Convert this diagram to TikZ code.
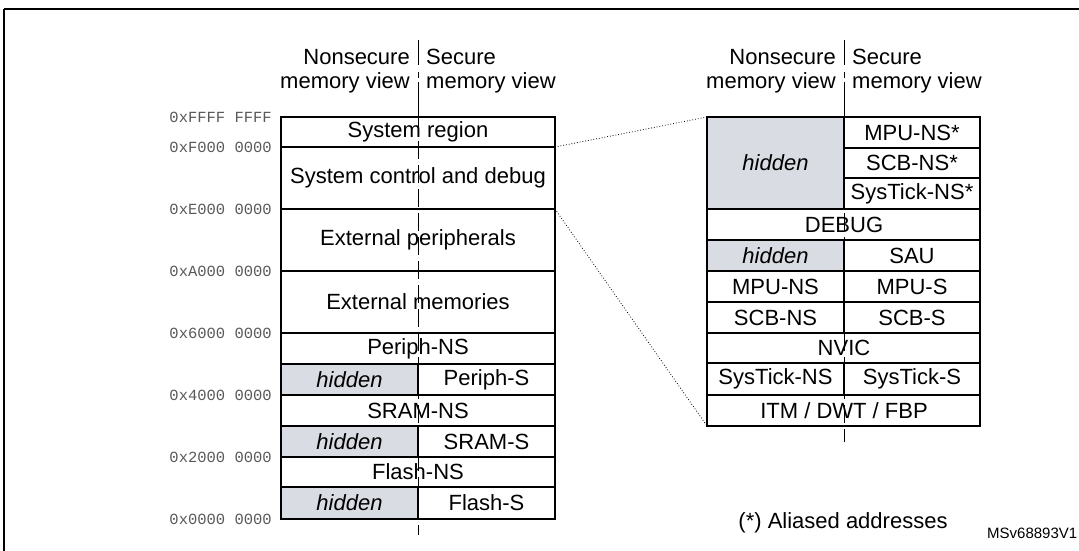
\documentclass[tikz,border=0pt]{standalone}
\usepackage{fontspec}
\setmainfont{Liberation Sans}
\setmonofont{Liberation Mono}
\begin{document}
\begin{tikzpicture}[x=1pt,y=-1pt,
  txt/.style={font=\fontsize{22}{24}\selectfont,inner sep=0pt},
  addr/.style={font=\ttfamily\fontsize{15.5}{17}\selectfont,text=black!65,anchor=east,inner sep=0pt},
  cell/.style={draw=black,line width=1.3pt},
  dl/.style={line width=1pt,dash pattern=on 18pt off 6pt},
  dot/.style={line width=0.8pt,dotted}]
\definecolor{hidfill}{HTML}{D9DCE3}
\useasboundingbox (0,0) rectangle (1079,551);
\draw[line width=1.5pt] (4,9) -- (4,560) (4,9) -- (1090,9);
% left header
\draw[line width=1pt] (418,40) -- (418,65) (418,72) -- (418,78) (418,82) -- (418,117);
\node[txt,anchor=east] (ln1) at (410,57) {Nonsecure};
\node[txt,anchor=east] (ln2) at (410,83) {memory view};
\node[txt,anchor=west] (ls1) at (426,57) {Secure};
\node[txt,anchor=west] (ls2) at (426,83) {memory view};
% left block
\fill[hidfill] (281,364) rectangle (418,395) (281,426) rectangle (418,457) (281,487) rectangle (418,519);
\draw[dl] (418,117) -- (418,535);
\draw[cell] (281,117) rectangle (555,519);
\foreach \y in {147,209,271,333,364,395,426,457,487} \draw[cell] (281,\y) -- (555,\y);
\foreach \a/\b in {364/395,426/457,487/519} \draw[cell] (418,\a) -- (418,\b);
\node[txt] (sr) at (418,132) {System region};
\node[txt] (sc) at (418,178) {System control and debug};
\node[txt] (ep) at (418,240) {External peripherals};
\node[txt] (em) at (418,302) {External memories};
\node[txt] (pns) at (418,348.5) {Periph-NS};
\node[txt] (h1) at (349.5,379.5) {\itshape hidden};
\node[txt] (ps) at (486.5,379.5) {Periph-S};
\node[txt] (sns) at (418,410.5) {SRAM-NS};
\node[txt] (h2) at (349.5,441.5) {\itshape hidden};
\node[txt] (ss) at (486.5,441.5) {SRAM-S};
\node[txt] (fns) at (418,472) {Flash-NS};
\node[txt] (h3) at (349.5,503) {\itshape hidden};
\node[txt] (fs) at (486.5,503) {Flash-S};
\node[addr] (a1) at (272,117) {0xFFFF FFFF};
\node[addr] (a2) at (272,147) {0xF000 0000};
\node[addr] (a3) at (272,209) {0xE000 0000};
\node[addr] (a4) at (272,271) {0xA000 0000};
\node[addr] (a5) at (272,333) {0x6000 0000};
\node[addr] (a6) at (272,395) {0x4000 0000};
\node[addr] (a7) at (272,457) {0x2000 0000};
\node[addr] (a8) at (272,519) {0x0000 0000};
% right header
\draw[line width=1pt] (844,40) -- (844,65) (844,72) -- (844,78) (844,82) -- (844,117);
\node[txt,anchor=east] (rn1) at (836,57) {Nonsecure};
\node[txt,anchor=east] (rn2) at (836,83) {memory view};
\node[txt,anchor=west] (rs1) at (852,57) {Secure};
\node[txt,anchor=west] (rs2) at (852,83) {memory view};
% right block
\fill[hidfill] (707,117) rectangle (844,209) (707,240) rectangle (844,271);
\draw[dl] (844,117) -- (844,442);
\draw[cell] (707,117) rectangle (980,426);
\foreach \y in {209,240,271,302,333,363,395} \draw[cell] (707,\y) -- (980,\y);
\draw[cell] (844,148) -- (980,148) (844,178) -- (980,178);
\foreach \a/\b in {117/209,240/271,271/302,302/333,363/395} \draw[cell] (844,\a) -- (844,\b);
\node[txt] (hr1) at (775.5,163) {\itshape hidden};
\node[txt] (m1) at (912,132.5) {MPU-NS*};
\node[txt] (c1) at (912,163) {SCB-NS*};
\node[txt] (t1) at (912,193.5) {SysTick-NS*};
\node[txt] (dbg) at (844,224.5) {DEBUG};
\node[txt] (hr2) at (775.5,255.5) {\itshape hidden};
\node[txt] (sau) at (912,255.5) {SAU};
\node[txt] (mn) at (775.5,286.5) {MPU-NS};
\node[txt] (ms) at (912,286.5) {MPU-S};
\node[txt] (cn) at (775.5,317.5) {SCB-NS};
\node[txt] (cs) at (912,317.5) {SCB-S};
\node[txt] (nv) at (844,348) {NVIC};
\node[txt] (tn) at (775.5,379) {SysTick-NS};
\node[txt] (ts) at (912,379) {SysTick-S};
\node[txt] (itm) at (844,410.5) {ITM / DWT / FBP};
% zoom lines
\coordinate (z1) at (555,147); \coordinate (z2) at (707,117);
\coordinate (z3) at (555,209); \coordinate (z4) at (707,426);
\draw[dot] (z1) -- (z2);
\draw[dot] (z3) -- (z4);
\node[txt] (al) at (843,523) {(*) Aliased addresses};
\node[font=\fontsize{15}{17}\selectfont,anchor=west,inner sep=0pt] (id) at (987,533) {MSv68893V1};
\end{tikzpicture}
\end{document}
